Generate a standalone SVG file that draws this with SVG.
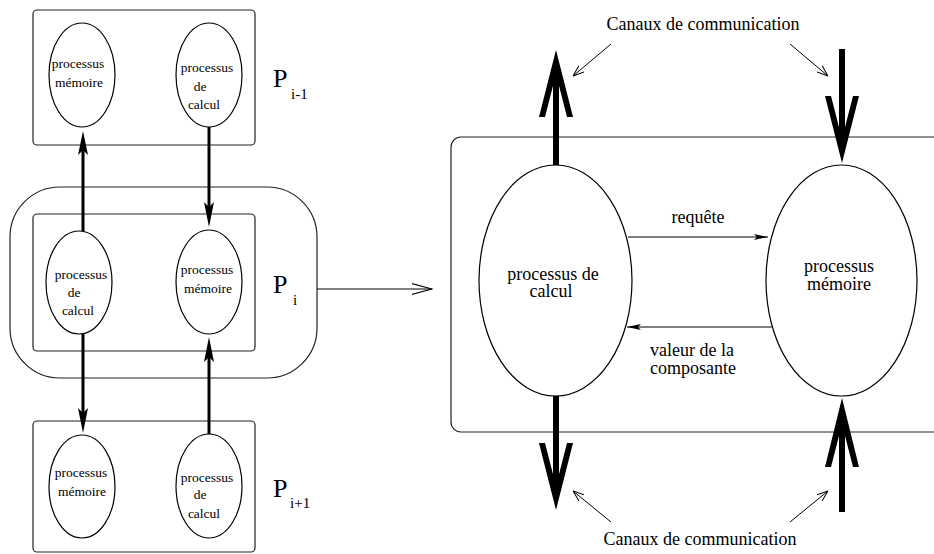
<svg xmlns="http://www.w3.org/2000/svg" width="934" height="554" viewBox="0 0 934 554">
<defs>
<style>
.box{fill:none;stroke:#222;stroke-width:1.2}
.ell{fill:#fff;stroke:#000;stroke-width:1.2}
text{font-family:'Liberation Serif','DejaVu Serif',serif;fill:#000}
.s{font-size:13.5px;text-anchor:middle}
.m{font-size:18px;text-anchor:middle}
.P{font-size:26px}
.sub{font-size:15px}
.thick{stroke:#000;stroke-width:3;fill:none}
.fat{stroke:#000;stroke-width:6;fill:none}
.thin{stroke:#000;stroke-width:1;fill:none}
</style>
<marker id="open" viewBox="0 0 11 9" refX="11" refY="4.5" markerWidth="11" markerHeight="9" markerUnits="userSpaceOnUse" orient="auto">
<path d="M0,0.5 L11,4.5 L0,8.5" fill="none" stroke="#000" stroke-width="1"/>
</marker>
<marker id="openBig" viewBox="0 0 21 12" refX="20.5" refY="6" markerWidth="21" markerHeight="12" markerUnits="userSpaceOnUse" orient="auto">
<path d="M0,0.5 L20.5,6 L0,11.5" fill="none" stroke="#000" stroke-width="1.2"/>
</marker>
<marker id="dart" viewBox="0 0 14 7" refX="14" refY="3.5" markerWidth="14" markerHeight="7" markerUnits="userSpaceOnUse" orient="auto">
<path d="M0,0.5 L14,3.5 L0,6.5 L3,3.5 z" fill="#000"/>
</marker>
</defs>
<rect width="934" height="554" fill="#fff"/>

<g id="Pim1" font-family="Liberation Serif, serif">
<rect class="box" x="33" y="10" width="222" height="135" rx="4"/>
<ellipse class="ell" cx="82" cy="75" rx="33" ry="52"/>
<text class="s" x="78" y="68">processus</text>
<text class="s" x="79" y="87">mémoire</text>
<ellipse class="ell" cx="209" cy="75" rx="33" ry="52"/>
<text class="s" x="207" y="72">processus</text>
<text class="s" x="200" y="91">de</text>
<text class="s" x="204" y="109">calcul</text>
<text class="P" x="273" y="87">P</text><text class="sub" x="291" y="99">i-1</text>
</g>

<g id="Pi" font-family="Liberation Serif, serif">
<rect class="box" x="10" y="187" width="307" height="191" rx="50"/>
<rect class="box" x="33" y="214" width="222" height="137" rx="4"/>
<ellipse class="ell" cx="79" cy="282.5" rx="33" ry="51.5"/>
<text class="s" x="81" y="279">processus</text>
<text class="s" x="74" y="297">de</text>
<text class="s" x="78" y="315">calcul</text>
<ellipse class="ell" cx="209" cy="282" rx="33" ry="52"/>
<text class="s" x="207" y="274">processus</text>
<text class="s" x="208" y="293">mémoire</text>
<text class="P" x="273" y="293">P</text><text class="sub" x="293" y="305">i</text>
</g>

<g id="Pip1" font-family="Liberation Serif, serif">
<rect class="box" x="33" y="421" width="222" height="131" rx="4"/>
<ellipse class="ell" cx="82" cy="486.5" rx="33" ry="51.5"/>
<text class="s" x="81" y="477">processus</text>
<text class="s" x="82" y="496">mémoire</text>
<ellipse class="ell" cx="209" cy="486" rx="33" ry="52"/>
<text class="s" x="207" y="482">processus</text>
<text class="s" x="200" y="499">de</text>
<text class="s" x="204" y="518">calcul</text>
<text class="P" x="273" y="497">P</text><text class="sub" x="290" y="508">i+1</text>
</g>

<g id="detail" font-family="Liberation Serif, serif">
<rect class="box" x="451" y="137" width="500" height="295" rx="10"/>
<ellipse class="ell" cx="555.5" cy="280.5" rx="76.5" ry="115.5"/>
<text class="m" x="553" y="280">processus de</text>
<text class="m" x="551" y="297">calcul</text>
<ellipse class="ell" cx="841.5" cy="280.5" rx="75.5" ry="115.5"/>
<text class="m" x="839" y="272">processus</text>
<text class="m" x="839" y="290">mémoire</text>
<text class="m" x="698" y="223">requête</text>
<text class="m" x="692" y="356">valeur de la</text>
<text class="m" x="693" y="374">composante</text>
<text class="m" x="703" y="30">Canaux de communication</text>
<text class="m" x="700" y="545">Canaux de communication</text>
</g>

<g id="connectors">
<line class="thick" x1="83" y1="231" x2="83" y2="140"/>
<polygon points="83,131 88,155 83,150 78,155" fill="#000"/>
<line class="thick" x1="209" y1="127" x2="209" y2="218"/>
<polygon points="209,227 214,202 209,207 204,202" fill="#000"/>
<line class="thick" x1="83" y1="334" x2="83" y2="424"/>
<polygon points="83,433 88,408 83,413 78,408" fill="#000"/>
<line class="thick" x1="209" y1="434" x2="209" y2="346"/>
<polygon points="209,337 214,362 209,357 204,362" fill="#000"/>
<line class="thin" x1="317" y1="289" x2="432" y2="289" stroke-width="1.2" marker-end="url(#openBig)"/>
<line class="fat" x1="556" y1="165" x2="556" y2="72"/>
<polygon points="556,50 573,117 567,117 556,74 545,117 539,117" fill="#000"/>
<line class="fat" x1="842" y1="49" x2="842" y2="141"/>
<polygon points="842,163 859,96 853,96 842,139 831,96 825,96" fill="#000"/>
<line class="fat" x1="556" y1="396" x2="556" y2="488"/>
<polygon points="556,510 573,443 567,443 556,486 545,443 539,443" fill="#000"/>
<line class="fat" x1="842" y1="512" x2="842" y2="422"/>
<polygon points="842,398 859,467 853,467 842,424 831,467 825,467" fill="#000"/>
<line class="thin" x1="611" y1="44" x2="573" y2="76" marker-end="url(#open)"/>
<line class="thin" x1="790" y1="44" x2="828" y2="76" marker-end="url(#open)"/>
<line class="thin" x1="611" y1="522" x2="573" y2="491" marker-end="url(#open)"/>
<line class="thin" x1="790" y1="522" x2="828" y2="491" marker-end="url(#open)"/>
<line class="thin" x1="628" y1="237" x2="768" y2="237" marker-end="url(#dart)"/>
<line class="thin" x1="772" y1="327" x2="627" y2="327" marker-end="url(#dart)"/>
</g>
</svg>
